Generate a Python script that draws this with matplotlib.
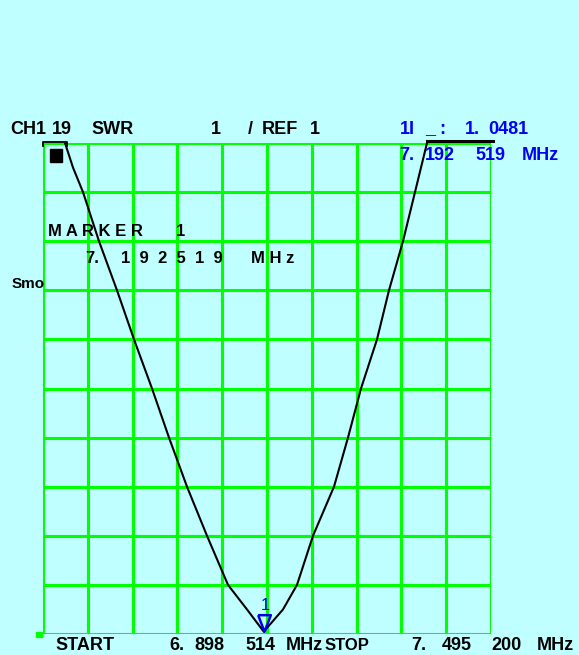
import numpy as np
import matplotlib
matplotlib.use("Agg")
import matplotlib.pyplot as plt
import matplotlib.transforms as mtransforms

# sweep settings
f_start = 6.898514
f_stop = 7.495200
swr_ref = 1
swr_per_div = 1
n_div = 10

# SWR trace (MHz, SWR)
freq = [6.92781, 6.93847, 6.95179, 6.97310, 6.99707, 7.01972, 7.04369,
        7.06633, 7.09031, 7.11695, 7.14492, 7.17022, 7.192519, 7.21816,
        7.23681, 7.25812, 7.28609, 7.30474, 7.32206, 7.34337, 7.35935,
        7.37800, 7.39398, 7.40997]
swr = [11.0, 10.5, 10.0, 9.0, 8.0, 7.0, 6.0, 5.0, 4.0, 3.0, 2.0, 1.5, 1.0481,
       1.5, 2.0, 3.0, 4.0, 5.0, 6.0, 7.0, 8.0, 9.0, 10.0, 11.0]

marker_freq = 7.192519
marker_swr = 1.0481

W, H = 579, 655
bg = "#c0ffff"
green = "#00ff00"
blue = "#0000f0"
fonts = ["Liberation Sans", "DejaVu Sans"]

fig = plt.figure(figsize=(W / 100, H / 100), dpi=100, facecolor=bg)
ax = fig.add_axes([43 / W, (H - 634) / H, 448 / W, 491 / H])
ax.set_facecolor(bg)
ax.set_xlim(f_start, f_stop)
ax.set_ylim(swr_ref, swr_ref + n_div * swr_per_div)
ax.set_xticks(np.linspace(f_start, f_stop, n_div + 1))
ax.set_yticks(np.arange(swr_ref, swr_ref + n_div * swr_per_div + 1, swr_per_div))
ax.grid(True, color=green, lw=2.2)
ax.tick_params(length=0, labelbottom=False, labelleft=False)
for s in ax.spines.values():
    s.set_visible(False)

ax.plot(freq, swr, color="black", lw=1.5, zorder=3)

# marker 1: narrow triangle pointing down, "1" above
tri_verts = [(-0.38, 0.5), (0.38, 0.5), (0, -0.5), (-0.38, 0.5)]
tri = mtransforms.offset_copy(ax.transData, fig=fig, x=0, y=9, units="dots")
ax.plot(marker_freq, marker_swr, marker=tri_verts, ms=12, mfc="none", mec=blue,
        mew=1.8, transform=tri, clip_on=False, zorder=4)
ax.annotate("1", (marker_freq, marker_swr), xytext=(2, 26), textcoords="offset pixels",
            color=blue, ha="center", va="center", fontsize=12, fontfamily=fonts,
            annotation_clip=False)

# overflow bars at top edge
fig.add_artist(plt.Line2D([43 / W, 43 / W, 67 / W, 67 / W],
                          [1 - 146 / H, 1 - 142 / H, 1 - 142 / H, 1 - 146 / H],
                          color="black", lw=1.3))
fig.add_artist(plt.Line2D([427 / W, 493 / W], [1 - 141 / H, 1 - 141 / H], color="black", lw=2.2))
fig.add_artist(plt.Rectangle((50 / W, 1 - 162 / H), 12 / W, 13 / H, color="black"))
fig.add_artist(plt.Rectangle((36 / W, 1 - 637 / H), 6 / W, 5 / H, color=green))


def txt(x, y, s, color="black", size=13, ha="center"):
    fig.text(x / W, 1 - y / H, s, color=color, fontsize=size, fontfamily=fonts,
             fontweight="bold", va="center", ha=ha)


# header line
txt(28, 130, "CH1")
txt(62, 130, "19")
txt(113, 130, "SWR")
txt(216, 130, "1")
txt(250, 130, "/")
txt(280, 130, "REF")
txt(315, 130, "1")
txt(407, 130, "1I", color=blue)
txt(430, 130, "_", color=blue)
txt(442, 130, ":", color=blue)
txt(472, 130, "1.", color=blue)
txt(508, 130, "0481", color=blue)
txt(407, 156, "7.", color=blue)
txt(440, 156, "192", color=blue)
txt(490, 156, "519", color=blue)
txt(540, 156, "MHz", color=blue)

# marker readout
txt(95, 231, "M A R K E R", size=12)
txt(181, 231, "1", size=12)
txt(92, 258, "7.", size=12)
txt(172, 258, "1  9  2  5  1  9", size=12)
txt(273, 258, "M H z", size=12)
txt(28, 284, "Smo", size=11)

# sweep limits
txt(85, 646, "START")
txt(177, 646, "6.")
txt(209, 646, "898")
txt(260, 646, "514")
txt(304, 646, "MHz")
txt(325, 646, "STOP", size=12, ha="left")
txt(419, 646, "7.")
txt(457, 646, "495")
txt(506, 646, "200")
txt(555, 646, "MHz")

fig.savefig("out.png", dpi=100, facecolor=bg)
